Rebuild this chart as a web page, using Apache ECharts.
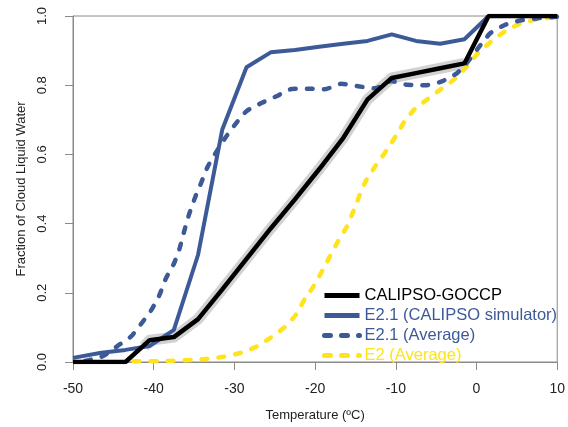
<!DOCTYPE html>
<html>
<head>
<meta charset="utf-8">
<script src="https://cdn.jsdelivr.net/npm/echarts@6/dist/echarts.min.js"></script>
<style>
html,body{margin:0;padding:0;background:#fff;}
#chart{width:568px;height:427px;}
</style>
</head>
<body>
<div id="chart"></div>
<script>
// ---- Data (Temperature in ºC, fraction of cloud liquid water) ----
const xTicks = [-50, -40, -30, -20, -10, 0, 10];
const yTicks = [0.0, 0.2, 0.4, 0.6, 0.8, 1.0];

const seriesNames = ['CALIPSO-GOCCP', 'E2.1 (CALIPSO simulator)', 'E2.1 (Average)', 'E2 (Average)'];

const calipsoGoccp = [
  [-50, 0], [-43.5, 0], [-40.5, 0.063], [-37.5, 0.072], [-34.5, 0.124],
  [-31.5, 0.21], [-28.5, 0.298], [-25.5, 0.386], [-22.5, 0.47], [-19.5, 0.557],
  [-16.5, 0.648], [-13.5, 0.759], [-10.5, 0.821], [-7.5, 0.835], [-4.5, 0.849],
  [-1.5, 0.863], [1.5, 1.0], [4.5, 1.0], [7.5, 1.0], [10, 1.0]
];

// uncertainty halo around the observations (drawn as a wide grey band)
const calipsoBand = [
  [-41.2, 0.045], [-40.5, 0.063], [-37.5, 0.072], [-34.5, 0.124],
  [-31.5, 0.21], [-28.5, 0.298], [-25.5, 0.386], [-22.5, 0.47], [-19.5, 0.557],
  [-16.5, 0.648], [-13.5, 0.759], [-10.5, 0.821], [-7.5, 0.835], [-4.5, 0.849],
  [-1.5, 0.863]
];

const e21Simulator = [
  [-50, 0.012], [-46.5, 0.027], [-43.5, 0.035], [-40.5, 0.046], [-37.5, 0.093],
  [-34.5, 0.31], [-31.5, 0.672], [-28.5, 0.852], [-25.5, 0.895], [-22.5, 0.902],
  [-19.5, 0.911], [-16.5, 0.92], [-13.5, 0.928], [-10.5, 0.947], [-7.5, 0.928],
  [-4.5, 0.92], [-1.5, 0.933], [1.5, 1.0], [4.5, 1.0], [7.5, 1.0], [10, 1.0]
];

const e21Average = [
  [-48.5, 0.003], [-46.3, 0.017], [-44.5, 0.046], [-42.8, 0.074], [-41.5, 0.112],
  [-40.3, 0.15], [-39.3, 0.193], [-38.5, 0.241], [-37.5, 0.284], [-36.8, 0.328],
  [-36.2, 0.38], [-35.6, 0.428], [-34.8, 0.48], [-34.1, 0.519], [-33.3, 0.565],
  [-32.3, 0.605], [-31.1, 0.649], [-29.9, 0.687], [-28.5, 0.725], [-26.6, 0.749],
  [-24.8, 0.768], [-22.9, 0.789], [-20.9, 0.79], [-18.8, 0.788], [-16.8, 0.804],
  [-14.7, 0.797], [-12.5, 0.791], [-10.6, 0.812], [-8.6, 0.801], [-6.3, 0.8],
  [-4.3, 0.811], [-2.4, 0.835], [-1.2, 0.864], [0.2, 0.907], [1.7, 0.95],
  [3.5, 0.974], [5.4, 0.987], [7.4, 0.993], [10, 0.998]
];

const e2Average = [
  [-42.5, 0.002], [-38.0, 0.003], [-35.4, 0.006], [-33.6, 0.009], [-31.4, 0.015],
  [-29.3, 0.026], [-27.3, 0.044], [-25.6, 0.069], [-23.8, 0.1], [-22.4, 0.136],
  [-21.3, 0.181], [-20.3, 0.215], [-19.2, 0.26], [-18.2, 0.304], [-17.2, 0.347],
  [-16.1, 0.39], [-15.3, 0.433], [-14.5, 0.481], [-13.7, 0.524], [-12.5, 0.567],
  [-11.2, 0.61], [-10.0, 0.653], [-9.0, 0.692], [-7.7, 0.73], [-6.1, 0.759],
  [-4.5, 0.787], [-2.8, 0.816], [-1.2, 0.854], [0.2, 0.893], [1.7, 0.924],
  [3.5, 0.955], [5.4, 0.978], [7.4, 0.99], [10, 0.998]
];

// ---- Styles ----
const BLUE = '#3d5a98';
const YELLOW = '#ffe31c';
const BLACK = '#000000';
const FONT = '"Liberation Sans", Arial, sans-serif';
const dash = [6, 11];

const chart = echarts.init(document.getElementById('chart'), null, {renderer: 'canvas'});
chart.setOption({
  animation: false,
  backgroundColor: '#ffffff',
  textStyle: {fontFamily: FONT},
  grid: {left: 73, right: 7, top: 16, bottom: 63, show: true, borderColor: '#8a8a8a', borderWidth: 1},
  xAxis: {
    type: 'value', min: xTicks[0], max: xTicks[xTicks.length - 1], interval: 10,
    name: 'Temperature (ºC)', nameLocation: 'middle', nameGap: 47,
    nameTextStyle: {fontSize: 13, color: '#222', fontFamily: FONT},
    axisLine: {show: true, onZero: false, lineStyle: {color: '#8a8a8a', width: 1}},
    axisTick: {show: true, length: 8, lineStyle: {color: '#8a8a8a'}},
    axisLabel: {fontSize: 14, color: '#222', margin: 20, fontFamily: FONT},
    splitLine: {show: false}
  },
  yAxis: {
    type: 'value', min: yTicks[0], max: yTicks[yTicks.length - 1], interval: 0.2,
    name: 'Fraction of Cloud Liquid Water', nameLocation: 'middle', nameGap: 39,
    nameTextStyle: {fontSize: 13, color: '#222', fontFamily: FONT},
    axisLine: {show: true, onZero: false, lineStyle: {color: '#8a8a8a', width: 1}},
    axisTick: {show: true, length: 8, lineStyle: {color: '#8a8a8a'}},
    axisLabel: {fontSize: 13, color: '#222', rotate: 90, margin: 24, fontFamily: FONT,
      formatter: v => v.toFixed(1)},
    splitLine: {show: false}
  },
  legend: {
    orient: 'vertical', left: 317, top: 282, itemWidth: 35, itemHeight: 14, itemGap: 3,
    itemStyle: {opacity: 0, borderWidth: 0},
    lineStyle: {width: 5},
    textStyle: {fontSize: 16.5, fontFamily: FONT},
    data: [
      {name: seriesNames[0], textStyle: {color: BLACK}},
      {name: seriesNames[1], textStyle: {color: BLUE}},
      {name: seriesNames[2], textStyle: {color: BLUE}},
      {name: seriesNames[3], textStyle: {color: YELLOW}}
    ]
  },
  series: [
    {
      name: 'band', type: 'line', data: calipsoBand, symbol: 'none', silent: true, z: 1,
      lineStyle: {color: '#d2d2d2', width: 11, join: 'round'}
    },
    {
      name: seriesNames[3], type: 'line', data: e2Average, symbol: 'none', smooth: 0.2, z: 2,
      lineStyle: {color: YELLOW, width: 4.5, type: dash, cap: 'round'}, itemStyle: {color: YELLOW}
    },
    {
      name: seriesNames[2], type: 'line', data: e21Average, symbol: 'none', smooth: 0.2, z: 3,
      lineStyle: {color: BLUE, width: 4.5, type: dash, cap: 'round'}, itemStyle: {color: BLUE}
    },
    {
      name: seriesNames[1], type: 'line', data: e21Simulator, symbol: 'none', z: 4,
      lineStyle: {color: BLUE, width: 4}, itemStyle: {color: BLUE}
    },
    {
      name: seriesNames[0], type: 'line', data: calipsoGoccp, symbol: 'none', z: 5,
      lineStyle: {color: BLACK, width: 4.5}, itemStyle: {color: BLACK}
    }
  ]
});
</script>
</body>
</html>
